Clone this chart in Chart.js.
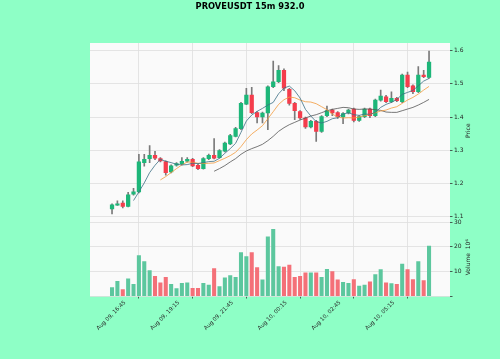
<!DOCTYPE html>
<html>
<head>
<meta charset="utf-8">
<script src="https://cdn.jsdelivr.net/npm/chart.js@4.4.1/dist/chart.umd.min.js"></script>
<style>
  html,body{margin:0;padding:0;background:#8effc6;}
  canvas{display:block;}
</style>
</head>
<body>
<canvas id="c" width="500" height="359"></canvas>
<script>
/* PROVEUSDT 15m candles, 60 bars from Aug 09 16:45 */
const titleText='PROVEUSDT 15m 932.0';
const xTickLabels=['Aug 09, 16:45','Aug 09, 19:15','Aug 09, 21:45','Aug 10, 00:15','Aug 10, 02:45','Aug 10, 05:15',''];

const opens=[1.124,1.135,1.141,1.131,1.168,1.175,1.263,1.275,1.285,1.275,
  1.266,1.235,1.255,1.259,1.267,1.273,1.255,1.245,1.275,1.285,
  1.278,1.297,1.319,1.342,1.365,1.439,1.466,1.413,1.400,1.412,
  1.491,1.506,1.540,1.483,1.441,1.416,1.397,1.370,1.387,1.357,
  1.404,1.421,1.413,1.400,1.412,1.424,1.390,1.401,1.424,1.404,
  1.451,1.461,1.446,1.456,1.446,1.526,1.494,1.476,1.526,1.519];
const highs=[1.139,1.148,1.148,1.174,1.186,1.288,1.288,1.314,1.297,1.278,
  1.268,1.256,1.263,1.278,1.278,1.276,1.258,1.278,1.289,1.335,
  1.302,1.325,1.348,1.369,1.444,1.486,1.489,1.416,1.415,1.494,
  1.568,1.555,1.545,1.486,1.444,1.419,1.400,1.390,1.390,1.404,
  1.433,1.424,1.416,1.413,1.424,1.427,1.404,1.427,1.427,1.454,
  1.481,1.465,1.476,1.459,1.529,1.535,1.497,1.552,1.540,1.598];
const lows=[1.109,1.134,1.127,1.130,1.165,1.172,1.252,1.263,1.272,1.265,
  1.225,1.232,1.252,1.256,1.264,1.251,1.242,1.243,1.272,1.274,
  1.276,1.295,1.317,1.340,1.362,1.437,1.410,1.382,1.382,1.362,
  1.488,1.503,1.479,1.436,1.392,1.393,1.366,1.367,1.327,1.354,
  1.401,1.404,1.396,1.380,1.409,1.385,1.387,1.398,1.398,1.401,
  1.448,1.443,1.443,1.446,1.443,1.488,1.470,1.473,1.518,1.516];
const closes=[1.136,1.139,1.131,1.166,1.175,1.265,1.273,1.285,1.276,1.268,
  1.233,1.253,1.260,1.267,1.273,1.253,1.245,1.275,1.285,1.276,
  1.299,1.322,1.344,1.365,1.441,1.466,1.413,1.400,1.412,1.491,
  1.506,1.540,1.487,1.441,1.419,1.397,1.370,1.387,1.357,1.401,
  1.419,1.412,1.401,1.410,1.421,1.390,1.401,1.424,1.404,1.451,
  1.463,1.446,1.456,1.449,1.526,1.491,1.476,1.526,1.521,1.565];
const volumes=[3.4,6.0,2.6,7.0,4.7,16.4,14.0,10.3,8.0,5.4,
  7.6,4.7,3.0,5.1,5.4,3.1,3.1,5.1,4.4,11.1,
  3.8,7.4,8.3,7.6,17.6,16.0,17.6,11.6,6.6,24.0,
  27.1,12.0,11.8,12.6,7.6,8.0,9.4,9.4,9.4,7.6,
  10.8,9.9,6.6,5.6,5.1,6.7,4.0,4.4,5.8,8.7,
  10.7,5.4,5.0,4.7,13.0,10.7,6.7,14.0,6.3,20.3];

// moving averages as plotted (5, 10, 20 bars)
const ma5=[null,null,null,null,
  1.149,1.175,1.202,1.233,1.255,1.273,1.267,1.263,1.258,1.256,1.257,1.261,1.260,1.263,1.266,1.267,
  1.276,1.291,1.305,1.321,1.354,1.388,1.406,1.417,1.426,1.436,1.444,1.470,1.487,1.493,1.479,1.457,
  1.423,1.403,1.386,1.382,1.387,1.395,1.398,1.409,1.413,1.407,1.405,1.409,1.408,1.414,1.429,1.438,
  1.444,1.453,1.468,1.474,1.480,1.494,1.508,1.516];
const ma10=[null,null,null,null,null,null,null,null,null,
  1.211,1.221,1.233,1.245,1.256,1.265,1.264,1.261,1.260,1.261,1.262,1.269,1.276,1.284,1.294,1.311,
  1.332,1.349,1.361,1.374,1.395,1.416,1.438,1.452,1.460,1.458,1.451,1.446,1.445,1.440,1.431,1.422,
  1.409,1.400,1.397,1.398,1.397,1.400,1.404,1.408,1.413,1.418,1.421,1.427,1.431,1.441,1.451,1.459,
  1.469,1.481,1.492];
const ma20=[null,null,null,null,null,null,null,null,null,null,null,null,null,null,null,null,null,null,null,
  1.237,1.245,1.254,1.265,1.275,1.288,1.298,1.305,1.311,1.318,1.329,1.342,1.357,1.368,1.377,1.384,
  1.391,1.397,1.403,1.407,1.413,1.419,1.423,1.426,1.429,1.428,1.424,1.423,1.424,1.424,1.422,1.420,
  1.415,1.414,1.414,1.419,1.424,1.429,1.436,1.444,1.453];

const UP='#1db679', DOWN='#f43d4c', VUP='#5cc79e', VDOWN='#f47078', WICK='#7a7a7a';
const idx=closes.map((_,i)=>i);
const up=i=>closes[i]>=opens[i];

Chart.defaults.font.family='"DejaVu Sans", sans-serif';
Chart.defaults.color='#262626';

const paint={
  id:'paint',
  beforeDraw(ch){
    const c=ch.ctx, a=ch.chartArea;
    c.save();
    c.fillStyle='#8effc6'; c.fillRect(0,0,ch.width,ch.height);
    c.fillStyle='#fafafa'; c.fillRect(a.left,a.top,a.right-a.left,a.bottom-a.top);
    c.restore();
  },
  afterDraw(ch){
    const c=ch.ctx;
    c.save();
    c.fillStyle='#000'; c.font='bold 8.3px "DejaVu Sans"';
    c.textAlign='center'; c.textBaseline='middle';
    c.fillText(titleText,ch.width/2,7);
    c.fillStyle='#262626'; c.font='6px "DejaVu Sans"';
    [['y','Price'],['yv','Volume  10\u2076']].forEach(([id,t])=>{
      const s=ch.scales[id];
      c.save(); c.translate(s.left+18,(s.top+s.bottom)/2); c.rotate(-Math.PI/2);
      c.fillText(t,0,0); c.restore();
    });
    c.restore();
  }
};

const fixW=s=>{s.width=50;};
const tickFont={size:6};

new Chart(document.getElementById('c'),{
  data:{datasets:[
    {type:'line',label:'MA5',data:idx.map(i=>({x:i,y:ma5[i]})),borderColor:'#3b6f84',borderWidth:0.8,pointRadius:0,yAxisID:'y',order:0},
    {type:'line',label:'MA10',data:idx.map(i=>({x:i,y:ma10[i]})),borderColor:'#f39a3c',borderWidth:0.8,pointRadius:0,yAxisID:'y',order:0},
    {type:'line',label:'MA20',data:idx.map(i=>({x:i,y:ma20[i]})),borderColor:'#555555',borderWidth:0.8,pointRadius:0,yAxisID:'y',order:0},
    {type:'bar',label:'wick',data:idx.map(i=>({x:i,y:[lows[i],highs[i]]})),backgroundColor:WICK,barThickness:1,grouped:false,yAxisID:'y',order:3},
    {type:'bar',label:'body',data:idx.map(i=>({x:i,y:[opens[i],closes[i]]})),backgroundColor:idx.map(i=>up(i)?UP:DOWN),barThickness:3.6,minBarLength:1,grouped:false,yAxisID:'y',order:2},
    {type:'bar',label:'volume',data:idx.map(i=>({x:i,y:volumes[i]})),backgroundColor:idx.map(i=>up(i)?VUP:VDOWN),barThickness:3.4,grouped:false,yAxisID:'yv',order:2}
  ]},
  options:{
    responsive:false,animation:false,devicePixelRatio:1,
    layout:{padding:{left:90,right:0,top:43,bottom:0}},
    plugins:{legend:{display:false},tooltip:{enabled:false},title:{display:false}},
    scales:{
      x:{type:'linear',min:-4.1,max:62.9,offset:false,
        afterFit:s=>{s.height=63;},
        grid:{color:'#dedede',lineWidth:0.8,tickColor:'#333',tickLength:2.5},
        border:{display:false},
        ticks:{stepSize:10,includeBounds:false,autoSkip:false,minRotation:45,maxRotation:45,
          labelOffset:13,padding:1,font:{size:5.5},
          callback:v=>xTickLabels[Math.round(v/10)]}},
      y:{type:'linear',position:'right',stack:'panels',stackWeight:175.5,min:1.095,max:1.6225,
        afterFit:fixW,
        grid:{color:'#dedede',lineWidth:0.8,tickColor:'#333',tickLength:2.5},
        border:{display:false},
        ticks:{stepSize:0.1,includeBounds:false,padding:1.5,font:tickFont,callback:v=>v.toFixed(1)}},
      yv:{type:'linear',position:'right',stack:'panels',stackWeight:77.5,min:0,max:31.5,
        afterFit:fixW,
        grid:{color:'#dedede',lineWidth:0.8,tickColor:'#333',tickLength:2.5},
        border:{display:false},
        ticks:{stepSize:5,includeBounds:false,padding:1.5,font:tickFont,callback:v=>v===0?'':String(v)}}
    }
  },
  plugins:[paint]
});
</script>
</body>
</html>
